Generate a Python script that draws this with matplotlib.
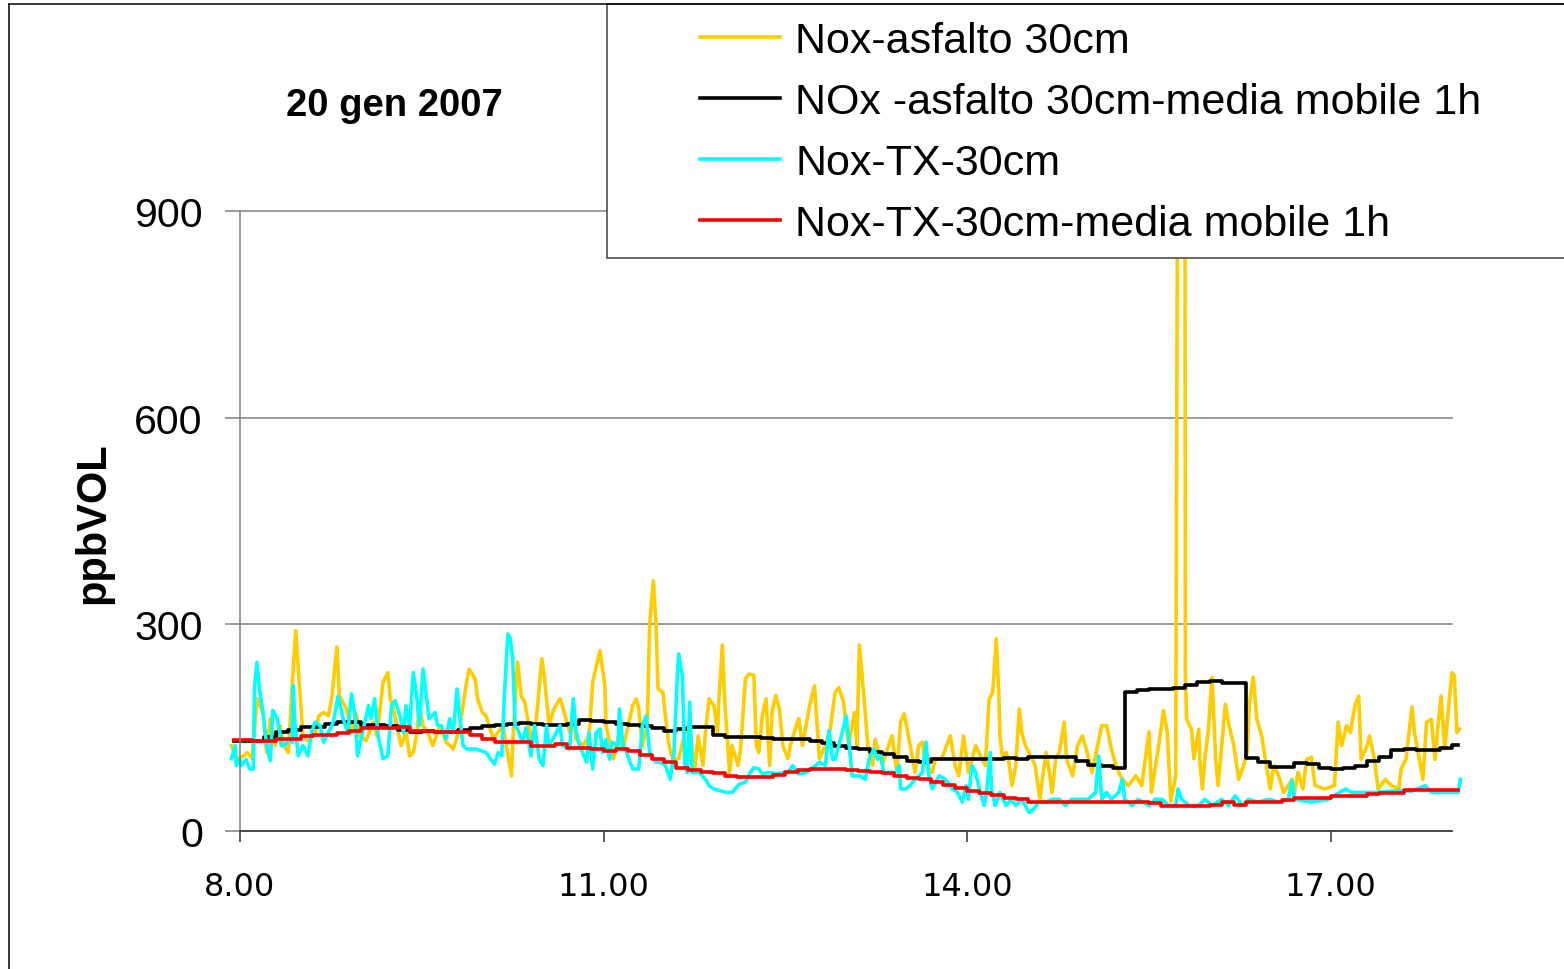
import numpy as np
from matplotlib import pyplot as plt
from matplotlib.lines import Line2D
from matplotlib.patches import Rectangle
from matplotlib.transforms import Bbox, TransformedBbox

# Nox-asfalto 30cm (hours, ppbVOL)
asf_t = [7.93, 7.97, 8.03, 8.06, 8.10, 8.14, 8.19, 8.22, 8.25, 8.29,
         8.33, 8.36, 8.40, 8.43, 8.46, 8.49, 8.52, 8.56, 8.62, 8.65,
         8.69, 8.73, 8.76, 8.78, 8.80, 8.82, 8.88, 8.92, 8.96, 8.99,
         9.04, 9.10, 9.13, 9.18, 9.22, 9.24, 9.26, 9.30, 9.33, 9.37,
         9.40, 9.43, 9.46, 9.48, 9.51, 9.55, 9.59, 9.65, 9.70, 9.76,
         9.81, 9.87, 9.89, 9.94, 9.96, 10.00, 10.03, 10.09, 10.17, 10.24,
         10.25, 10.29, 10.32, 10.35, 10.40, 10.44, 10.49, 10.51, 10.55, 10.59,
         10.64, 10.66, 10.72, 10.75, 10.77, 10.83, 10.88, 10.91, 10.97, 11.01,
         11.02, 11.08, 11.13, 11.16, 11.19, 11.24, 11.27, 11.29, 11.32, 11.36,
         11.38, 11.41, 11.43, 11.45, 11.49, 11.51, 11.54, 11.57, 11.62, 11.67,
         11.71, 11.75, 11.78, 11.82, 11.84, 11.87, 11.91, 11.94, 11.95, 11.98,
         12.00, 12.04, 12.06, 12.11, 12.13, 12.17, 12.20, 12.24, 12.26, 12.28,
         12.31, 12.34, 12.37, 12.39, 12.42, 12.45, 12.48, 12.52, 12.54, 12.59,
         12.61, 12.64, 12.70, 12.74, 12.78, 12.83, 12.87, 12.91, 12.94, 12.98,
         13.02, 13.07, 13.09, 13.11, 13.15, 13.18, 13.22, 13.24, 13.30, 13.35,
         13.38, 13.42, 13.45, 13.48, 13.52, 13.57, 13.60, 13.63, 13.66, 13.71,
         13.74, 13.79, 13.83, 13.86, 13.90, 13.93, 13.97, 14.01, 14.07, 14.12,
         14.15, 14.18, 14.21, 14.24, 14.26, 14.27, 14.29, 14.32, 14.34, 14.37,
         14.40, 14.43, 14.45, 14.48, 14.51, 14.56, 14.60, 14.65, 14.67, 14.70,
         14.73, 14.76, 14.80, 14.82, 14.87, 14.91, 14.95, 14.99, 15.03, 15.07,
         15.11, 15.15, 15.19, 15.22, 15.25, 15.28, 15.33, 15.39, 15.44, 15.50,
         15.52, 15.58, 15.62, 15.65, 15.68, 15.72, 15.745, 15.795, 15.80, 15.81,
         15.85, 15.87, 15.91, 15.92, 15.94, 15.96, 15.99, 16.02, 16.05, 16.07,
         16.10, 16.13, 16.16, 16.20, 16.24, 16.28, 16.31, 16.33, 16.36, 16.39,
         16.43, 16.46, 16.50, 16.53, 16.57, 16.61, 16.65, 16.68, 16.70, 16.73,
         16.77, 16.80, 16.84, 16.87, 16.95, 17.03, 17.06, 17.09, 17.13, 17.16,
         17.20, 17.23, 17.25, 17.30, 17.32, 17.36, 17.39, 17.45, 17.50, 17.56,
         17.58, 17.62, 17.67, 17.69, 17.72, 17.76, 17.79, 17.83, 17.86, 17.89,
         17.91, 17.94, 17.97, 18.00, 18.02, 18.04, 18.06]
asf_v = [124, 105, 109, 114, 105, 192, 172, 114, 163, 124,
         153, 124, 114, 211, 291, 211, 138, 131, 141, 167,
         172, 167, 196, 235, 267, 196, 177, 143, 170, 138,
         131, 158, 138, 216, 230, 191, 182, 148, 124, 143,
         109, 114, 143, 182, 153, 143, 124, 153, 129, 119,
         148, 216, 235, 221, 192, 172, 167, 134, 153, 80,
         129, 245, 196, 187, 134, 153, 250, 226, 153, 177,
         192, 182, 143, 172, 134, 124, 138, 216, 262, 211,
         153, 105, 143, 119, 143, 182, 192, 177, 124, 153,
         300, 363, 308, 206, 201, 167, 124, 105, 105, 143,
         153, 85, 138, 95, 143, 192, 182, 143, 187, 270,
         187, 85, 124, 95, 119, 221, 228, 226, 124, 114,
         167, 192, 95, 172, 197, 177, 124, 105, 124, 153,
         163, 124, 182, 211, 105, 124, 148, 201, 208, 187,
         124, 172, 124, 270, 191, 124, 95, 133, 95, 124,
         138, 85, 158, 170, 133, 85, 124, 129, 95, 85,
         105, 105, 124, 138, 95, 80, 138, 85, 124, 105,
         95, 191, 201, 279, 201, 138, 109, 114, 105, 66,
         95, 177, 143, 124, 114, 95, 47, 114, 95, 56,
         105, 114, 158, 104, 80, 124, 138, 114, 85, 119,
         153, 153, 119, 100, 85, 75, 66, 80, 66, 144,
         56, 124, 175, 143, 43, 80, 1500, 1500, 230, 162,
         148, 105, 148, 100, 61, 104, 148, 223, 104, 66,
         124, 184, 153, 124, 75, 95, 114, 187, 223, 162,
         138, 104, 61, 95, 80, 56, 66, 75, 56, 85,
         61, 104, 107, 66, 61, 66, 158, 124, 153, 143,
         182, 196, 104, 124, 138, 104, 61, 75, 66, 61,
         90, 104, 180, 143, 114, 75, 158, 162, 104, 162,
         196, 119, 177, 230, 225, 143, 148]

# Nox-TX-30cm
tx_t = [7.93, 7.96, 7.97, 8.00, 8.01, 8.05, 8.08, 8.11, 8.12, 8.14,
        8.16, 8.19, 8.22, 8.25, 8.27, 8.30, 8.33, 8.34, 8.37, 8.40,
        8.43, 8.44, 8.45, 8.48, 8.52, 8.56, 8.59, 8.62, 8.66, 8.69,
        8.73, 8.77, 8.81, 8.85, 8.89, 8.92, 8.95, 8.97, 9.00, 9.06,
        9.08, 9.11, 9.14, 9.18, 9.22, 9.25, 9.28, 9.32, 9.35, 9.37,
        9.40, 9.43, 9.46, 9.48, 9.51, 9.54, 9.56, 9.61, 9.63, 9.66,
        9.70, 9.73, 9.76, 9.79, 9.81, 9.84, 9.87, 9.95, 10.03, 10.07,
        10.10, 10.13, 10.16, 10.18, 10.21, 10.23, 10.25, 10.27, 10.29, 10.33,
        10.36, 10.40, 10.43, 10.47, 10.50, 10.53, 10.55, 10.61, 10.64, 10.66,
        10.72, 10.75, 10.77, 10.80, 10.86, 10.88, 10.91, 10.94, 10.97, 10.99,
        11.02, 11.05, 11.07, 11.12, 11.13, 11.16, 11.19, 11.21, 11.24, 11.29,
        11.32, 11.35, 11.38, 11.40, 11.43, 11.47, 11.51, 11.55, 11.58, 11.61,
        11.62, 11.65, 11.67, 11.69, 11.71, 11.73, 11.79, 11.84, 11.87, 11.91,
        12.01, 12.06, 12.12, 12.17, 12.21, 12.24, 12.28, 12.31, 12.37, 12.42,
        12.48, 12.52, 12.56, 12.61, 12.67, 12.75, 12.78, 12.83, 12.86, 12.89,
        12.91, 12.94, 12.97, 13.00, 13.02, 13.05, 13.11, 13.16, 13.19, 13.23,
        13.26, 13.29, 13.31, 13.41, 13.44, 13.45, 13.49, 13.53, 13.57, 13.63,
        13.66, 13.68, 13.71, 13.77, 13.82, 13.88, 13.92, 13.96, 13.99, 14.01,
        14.04, 14.07, 14.10, 14.14, 14.16, 14.19, 14.20, 14.23, 14.27, 14.32,
        14.36, 14.40, 14.45, 14.51, 14.55, 14.59, 14.65, 14.70, 14.76, 14.81,
        14.86, 14.92, 15.00, 15.06, 15.085, 15.11, 15.15, 15.19, 15.25, 15.28,
        15.30, 15.36, 15.41, 15.50, 15.55, 15.61, 15.66, 15.72, 15.74, 15.77,
        15.83, 15.91, 15.96, 16.02, 16.10, 16.155, 16.21, 16.27, 16.32, 16.40,
        16.49, 16.57, 16.65, 16.68, 16.70, 16.84, 16.98, 17.12, 17.17, 17.25,
        17.39, 17.50, 17.67, 17.78, 17.83, 17.94, 18.05, 18.07]
tx_v = [105, 124, 95, 104, 95, 104, 90, 90, 211, 245,
        206, 172, 124, 102, 175, 167, 143, 124, 124, 134,
        129, 211, 163, 109, 124, 109, 143, 158, 153, 129,
        143, 158, 196, 163, 143, 199, 167, 109, 134, 182,
        163, 192, 138, 105, 109, 182, 189, 167, 143, 182,
        153, 230, 192, 153, 235, 192, 163, 172, 153, 153,
        134, 163, 143, 206, 172, 124, 119, 119, 114, 104,
        97, 114, 109, 192, 286, 279, 250, 153, 148, 129,
        150, 109, 153, 104, 95, 153, 124, 143, 153, 124,
        119, 192, 148, 124, 100, 143, 90, 143, 148, 114,
        133, 104, 129, 124, 177, 124, 114, 104, 90, 90,
        153, 167, 114, 109, 100, 100, 95, 75, 114, 230,
        257, 225, 95, 85, 187, 85, 85, 75, 66, 61,
        56, 56, 68, 71, 85, 92, 90, 83, 85, 83,
        85, 85, 95, 83, 85, 95, 100, 95, 146, 104,
        104, 124, 143, 167, 138, 80, 80, 75, 104, 119,
        104, 109, 85, 85, 95, 61, 61, 66, 75, 85,
        129, 85, 61, 80, 75, 61, 56, 42, 66, 46,
        95, 85, 61, 37, 56, 114, 61, 37, 56, 37,
        46, 37, 46, 27, 32, 42, 42, 46, 46, 37,
        46, 46, 46, 56, 109, 46, 56, 46, 56, 75,
        46, 37, 46, 37, 46, 46, 37, 37, 61, 46,
        37, 37, 46, 37, 46, 37, 51, 37, 46, 42,
        46, 42, 46, 73, 46, 42, 46, 61, 56, 56,
        56, 58, 58, 66, 56, 56, 56, 75]

# 1h moving averages, read every 6 minutes from 7.95 to 18.05
mm_t = np.round(np.arange(7.95, 18.06, 0.1), 2)
asf_mm = [130, 130, 131, 136, 143, 146, 151, 151, 155, 158,
          158, 154, 154, 153, 146, 144, 145, 144, 144, 146,
          150, 152, 154, 155, 157, 155, 154, 154, 156, 161,
          160, 158, 155, 154, 152, 149, 145, 148, 151, 151,
          140, 136, 136, 136, 135, 133, 133, 133, 131, 128,
          123, 120, 119, 114, 112, 107, 102, 100, 104, 104,
          105, 104, 104, 104, 106, 105, 107, 107, 107, 107,
          102, 96, 94, 92, 202, 205, 206, 206, 207, 212,
          217, 218, 215, 215, 106, 100, 93, 93, 99, 97,
          91, 90, 91, 95, 101, 108, 118, 119, 118, 117,
          120, 125]
tx_mm = [132, 132, 130, 130, 134, 134, 138, 140, 140, 142,
         145, 150, 150, 150, 151, 145, 145, 144, 144, 144,
         140, 134, 129, 129, 129, 124, 124, 126, 120, 120,
         119, 116, 119, 116, 111, 105, 100, 92, 88, 85,
         84, 80, 78, 78, 79, 82, 86, 88, 90, 90,
         90, 88, 87, 86, 84, 80, 77, 75, 71, 67,
         62, 58, 55, 52, 48, 46, 42, 42, 42, 42,
         42, 42, 42, 42, 42, 42, 40, 37, 37, 37,
         37, 38, 42, 38, 42, 42, 42, 45, 48, 48,
         48, 51, 51, 51, 53, 55, 55, 59, 60, 60,
         60, 60]

labels = ['Nox-asfalto 30cm', 'NOx -asfalto 30cm-media mobile 1h',
          'Nox-TX-30cm', 'Nox-TX-30cm-media mobile 1h']
colors = ['#FFCC00', '#000000', '#00FFFF', '#FF0000']

W, H = 1564, 970
fig = plt.figure(figsize=(W / 100, H / 100), dpi=100)
ax = fig.add_axes([240 / W, 1 - 832 / H, (1452 - 240) / W, (832 - 212) / H])

l1, = ax.plot(asf_t, asf_v, color=colors[0], lw=2.6)
l2, = ax.plot(mm_t, asf_mm, color=colors[1], lw=2.6, drawstyle='steps-mid')
l3, = ax.plot(tx_t, tx_v, color=colors[2], lw=2.6)
l4, = ax.plot(mm_t, tx_mm, color=colors[3], lw=2.6, drawstyle='steps-mid')

# lines run a little past both ends of the time axis, as in the original
clip = TransformedBbox(Bbox([[-0.01, 0], [1.02, 1]]), ax.transAxes)
for ln in (l1, l2, l3, l4):
    ln.set_clip_path(None)
    ln.set_clip_box(clip)

ax.set_xlim(8, 18)
ax.set_ylim(0, 900)
ax.set_xticks([8, 11, 14, 17])
ax.set_xticklabels(['8.00', '11.00', '14.00', '17.00'],
                   family='DejaVu Sans', fontsize=23)
ax.set_yticks([0, 300, 600, 900])
ax.set_yticklabels(['0', '300', '600', '900'],
                   family='Liberation Sans', fontsize=29.5)
ax.tick_params(axis='y', direction='out', length=10.8, width=1.1,
               color='#808080', pad=16)
ax.tick_params(axis='x', direction='out', length=8, width=1.1,
               color='#333333', pad=21)

ax.yaxis.grid(True, color='#808080', lw=1.1)
for gl in ax.get_ygridlines():
    gl.set_clip_on(False)
ax.set_axisbelow(True)
for s in ['top', 'right']:
    ax.spines[s].set_visible(False)
ax.spines['left'].set_color('#808080')
ax.spines['left'].set_linewidth(1.1)
ax.spines['bottom'].set_color('#333333')
ax.spines['bottom'].set_linewidth(1.1)

fig.text(394 / W, 1 - 106 / H, '20 gen 2007', ha='center', va='center',
         family='Liberation Sans', fontweight='bold', fontsize=27.5)
fig.text(93 / W, 1 - 523 / H, 'ppbVOL', ha='center', va='center',
         rotation=90, family='Liberation Sans', fontweight='bold', fontsize=30)

# chart border (left and top visible) and legend box
fig.add_artist(Line2D([9 / W, 9 / W], [0, 1 - 5 / H], color='black', lw=1.1))
fig.add_artist(Line2D([9 / W, 1], [1 - 5 / H, 1 - 5 / H], color='black', lw=1.1))
fig.add_artist(Rectangle((607 / W, 1 - 259 / H), 1.0, 254 / H,
                         transform=fig.transFigure, facecolor='white',
                         edgecolor='#404040', lw=1.1, zorder=1))

handles = [Line2D([], [], color=c, lw=2.6) for c in colors]
fig.legend(handles, labels, loc='upper left', bbox_to_anchor=(700 / W, 1 - 22 / H),
           frameon=False, borderpad=0, borderaxespad=0, handlelength=1.86,
           handletextpad=0.35, labelspacing=0.49,
           prop={'family': 'Liberation Sans', 'size': 31})

fig.savefig('out.png', dpi=100)
